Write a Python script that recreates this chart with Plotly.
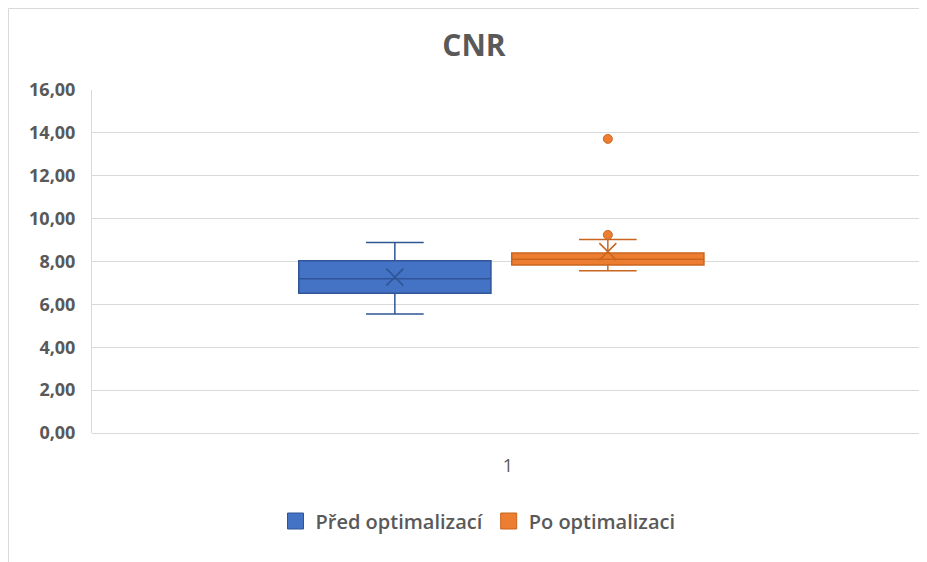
import plotly.graph_objs as go

#####################################################################
# DATA
#####################################################################
series = ['Před optimalizací', 'Po optimalizaci']
category = 1
q1 = [6.52, 7.84]
median = [7.20, 8.10]
q3 = [8.04, 8.40]
lower_fence = [5.55, 7.57]
upper_fence = [8.89, 9.03]
means = [7.27, 8.46]
outliers = [[], [13.72, 9.24]]
y_ticks = [0, 2, 4, 6, 8, 10, 12, 14, 16]

#####################################################################
# STYLE
#####################################################################
fills = ['#4472C4', '#ED7D31']
edges = ['#2F5597', '#C9651F']
offsets = [-0.136, 0.120]
box_width = 0.231
font = 'Open Sans'
grey = '#595959'

# the page body adds an 8px offset, so the figure is sized to fit the window
W, H = 919, 554
margin = dict(l=84, r=3, t=82, b=129)
plot_w = W - margin['l'] - margin['r']
plot_h = H - margin['t'] - margin['b']

def px_x(p):
    return (p - margin['l']) / plot_w

def px_y(p):
    return (H - margin['b'] - p) / plot_h

fig = go.Figure()

for i, name in enumerate(series):
    pos = category + offsets[i]
    fig.add_trace(go.Box(
        name=name,
        x=[pos],
        q1=[q1[i]],
        median=[median[i]],
        q3=[q3[i]],
        lowerfence=[lower_fence[i]],
        upperfence=[upper_fence[i]],
        width=box_width,
        whiskerwidth=0.3,
        fillcolor=fills[i],
        line=dict(color=edges[i], width=1.5),
        boxpoints=False,
        showlegend=False,
        hoverinfo='skip'))
    fig.add_trace(go.Scatter(
        x=[pos],
        y=[means[i]],
        mode='markers',
        showlegend=False,
        marker=dict(symbol='x-thin-open', size=17, color=edges[i],
                    line=dict(color=edges[i], width=1.6))))
    if outliers[i]:
        fig.add_trace(go.Scatter(
            x=[pos] * len(outliers[i]),
            y=outliers[i],
            mode='markers',
            showlegend=False,
            marker=dict(symbol='circle', size=9, color=fills[i],
                        line=dict(color=edges[i], width=1))))
    # legend swatch (big square like the reference)
    fig.add_trace(go.Scatter(
        x=[None], y=[None], name=name, mode='markers',
        marker=dict(symbol='square', size=19, color=fills[i],
                    line=dict(color=edges[i], width=1))))

# thin chart-area border (left and top edges show in the reference)
fig.add_shape(
    type='rect', xref='paper', yref='paper', layer='below',
    x0=px_x(0.5), x1=px_x(W + 10), y0=px_y(H + 10), y1=px_y(0.5),
    line=dict(color='#D9D9D9', width=1))

fig.update_layout(
    width=W, height=H,
    margin=dict(margin, autoexpand=False),
    paper_bgcolor='white',
    plot_bgcolor='white',
    separators=', ',
    font=dict(family=font, color=grey),
    title=dict(text='<b>CNR</b>', x=px_x(466), xref='paper', xanchor='center',
               y=1 - 37 / H, yanchor='middle',
               font=dict(family=font, size=30, color=grey)),
    showlegend=True,
    legend=dict(orientation='h', x=px_x(470), xanchor='center', xref='paper',
                y=px_y(513), yanchor='middle', itemsizing='trace',
                font=dict(family=font, size=20, color=grey, weight=600)),
    xaxis=dict(range=[category - 0.5, category + 0.5],
               tickvals=[category], ticktext=[str(category)],
               showgrid=False, zeroline=False, showline=False,
               ticks='', tickfont=dict(family=font, size=18, color=grey),
               ticklabelstandoff=20),
    yaxis=dict(range=[0, 16], tickvals=y_ticks, tickformat='.2f',
               showgrid=True, gridcolor='#D9D9D9', gridwidth=1,
               zeroline=True, zerolinecolor='#D9D9D9', zerolinewidth=1,
               showline=True, linecolor='#D9D9D9', linewidth=1,
               ticks='', ticklabelstandoff=12,
               tickfont=dict(family=font, size=18, color=grey, weight='bold')))

fig.write_html("out.html")
